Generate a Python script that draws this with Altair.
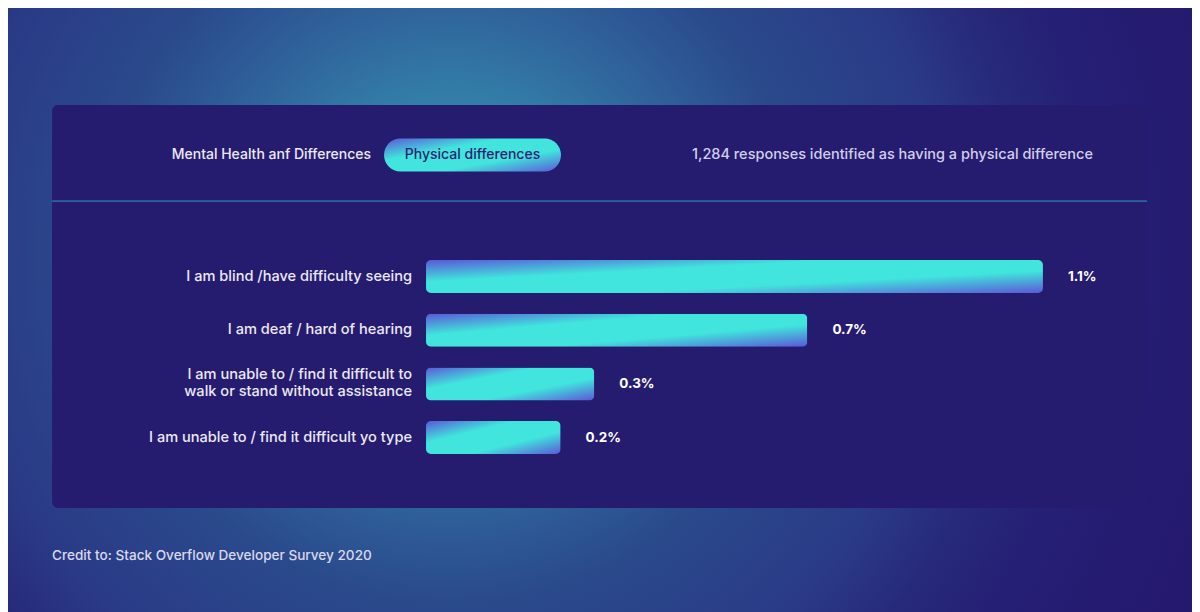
import altair as alt
import pandas as pd

# ---- data ----
categories = [
    "I am blind /have difficulty seeing",
    "I am deaf / hard of hearing",
    "I am unable to / find it difficult to\nwalk or stand without assistance",
    "I am unable to / find it difficult yo type",
]
values = [1.1, 0.68, 0.3, 0.24]
tab_inactive = "Mental Health anf Differences"
tab_active = "Physical differences"
subtitle = "1,284 responses identified as having a physical difference"
credit = "Credit to: Stack Overflow Developer Survey 2020"

# page is shown scaled to fit; map page pixel -> chart pixel
S = 1208 / 1200.0
def f(p):
    return p * S - 8

W, H = 1192, 612
FONT = "Inter"

df = pd.DataFrame({"category": categories, "value": values})
df["label"] = [f"{v:.1f}%" for v in values]
df["multi"] = ["\n" in c for c in categories]

PURPLE = "#5a58d8"
CYAN = "#41e5dd"
bar_grad = alt.LinearGradient(
    gradient="linear",
    stops=[
        alt.GradientStop(color=PURPLE, offset=0),
        alt.GradientStop(color=CYAN, offset=0.33),
        alt.GradientStop(color=CYAN, offset=0.66),
        alt.GradientStop(color=PURPLE, offset=1),
    ],
    x1=0, y1=0, x2=1, y2=1,
)

bg_grad = alt.RadialGradient(
    gradient="radial",
    stops=[
        alt.GradientStop(color="#3888b0", offset=0),
        alt.GradientStop(color="#337ea8", offset=0.18),
        alt.GradientStop(color="#2f619a", offset=0.3),
        alt.GradientStop(color="#2a4a8c", offset=0.41),
        alt.GradientStop(color="#2a3a86", offset=0.58),
        alt.GradientStop(color="#272a7a", offset=0.67),
        alt.GradientStop(color="#251f75", offset=0.77),
        alt.GradientStop(color="#24196e", offset=0.94),
        alt.GradientStop(color="#24196e", offset=1),
    ],
    x1=0.5, y1=0.5, r1=0, x2=0.5, y2=0.5, r2=0.5,
)

one = pd.DataFrame({"k": [0]})

base_bg = alt.Chart(one).mark_rect(color="#24196e").encode(
    x=alt.value(0), x2=alt.value(W), y=alt.value(0), y2=alt.value(H)
)
R = 850 * S
gx, gy = f(450), f(250)
glow = alt.Chart(one).mark_rect(fill=bg_grad).encode(
    x=alt.value(gx - R), x2=alt.value(gx + R),
    y=alt.value(gy - R), y2=alt.value(gy + R),
)
panel = alt.Chart(one).mark_rect(color="#261c6f", cornerRadius=6).encode(
    x=alt.value(f(52)), x2=alt.value(f(1147)), y=alt.value(f(103)), y2=alt.value(f(506))
)
sep = alt.Chart(one).mark_rule(color="#2e9cc6", strokeWidth=1).encode(
    x=alt.value(f(52)), x2=alt.value(f(1147)), y=alt.value(f(199))
)
pill = alt.Chart(one).mark_rect(fill=bar_grad, cornerRadius=16.5 * S).encode(
    x=alt.value(f(384)), x2=alt.value(f(561)), y=alt.value(f(136.5)), y2=alt.value(f(169.5))
)

def txt(s, x, y, color, size=14, weight=500, align="left"):
    return alt.Chart(pd.DataFrame({"t": [s]})).mark_text(
        font=FONT, fontSize=size * S, fontWeight=weight, color=color,
        align=align, baseline="middle",
    ).encode(x=alt.value(f(x)), y=alt.value(f(y)), text="t:N")

t_inactive = txt(tab_inactive, 371, 153, "#ebe9f7", align="right")
t_active = txt(tab_active, 472.5, 153, "#2b1f74", align="center")
t_sub = txt(subtitle, 1093, 153, "#d2cfec", size=14.5, align="right")
t_credit = txt(credit, 52, 554, "#dad8f0", size=13.6)

yscale = alt.Scale(domain=categories, range=[f(258), f(452)], paddingInner=0.385, paddingOuter=0)
xscale = alt.Scale(domain=[0, 1.1], range=[f(426), f(1043)], nice=False)

Y = alt.Y("category:N", scale=yscale, sort=None, axis=None)
X = alt.X("value:Q", scale=xscale, axis=None)

bars = alt.Chart(df).mark_bar(fill=bar_grad, cornerRadius=5).encode(y=Y, x=X)
vlabels = alt.Chart(df).mark_text(
    font=FONT, fontSize=13.5 * S, fontWeight=700, color="#ffffff",
    align="left", baseline="middle", dx=25 * S,
).encode(y=Y, x=X, text="label:N")

LH = 17 * S
clabels_single = alt.Chart(df).transform_filter("!datum.multi").mark_text(
    font=FONT, fontSize=14.6 * S, fontWeight=500, color="#ebe9f7",
    align="right", baseline="middle",
).encode(y=Y, x=alt.value(f(412)), text="category:N")
clabels_multi = alt.Chart(df).transform_filter("datum.multi").mark_text(
    font=FONT, fontSize=14.6 * S, fontWeight=500, color="#ebe9f7",
    align="right", baseline="middle", lineBreak="\n", lineHeight=LH, dy=-LH / 2,
).encode(y=Y, x=alt.value(f(412)), text="category:N")

chart = alt.layer(
    base_bg, glow, panel, sep, pill, t_inactive, t_active, t_sub, t_credit,
    bars, vlabels, clabels_single, clabels_multi,
).properties(
    width=W, height=H, padding=0, autosize=alt.AutoSizeParams(type="none"),
    background="#24196e",
).configure_view(stroke=None)

chart.save("out.html", embed_options={"renderer": "svg", "actions": False})
